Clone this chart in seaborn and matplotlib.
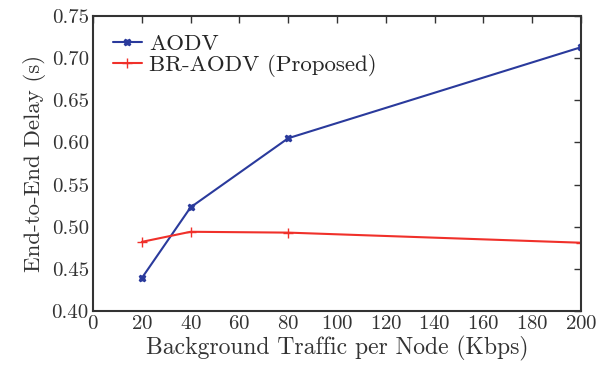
import numpy as np
import pandas as pd
import matplotlib
matplotlib.use('Agg')
import matplotlib.pyplot as plt
import seaborn as sns

# Data
traffic = [20, 40, 80, 200]
aodv = [0.439, 0.523, 0.605, 0.713]
br_aodv = [0.482, 0.494, 0.493, 0.481]

sns.set_theme(style='white')
plt.rcParams['font.family'] = ['cmr10', 'DejaVu Serif']
plt.rcParams['axes.formatter.use_mathtext'] = True

df = pd.DataFrame({
    'traffic': traffic * 2,
    'delay': aodv + br_aodv,
    'protocol': ['AODV'] * 4 + ['BR-AODV (Proposed)'] * 4,
})

fig = plt.figure(figsize=(5.98, 3.65), dpi=100)
ax = fig.add_axes([0.1555, 0.148, 0.816, 0.808])

palette = {'AODV': '#2a3a9c', 'BR-AODV (Proposed)': '#f0302a'}
markers = {'AODV': 'X', 'BR-AODV (Proposed)': '+'}
sizes = {'AODV': 5, 'BR-AODV (Proposed)': 7}
for name in ['AODV', 'BR-AODV (Proposed)']:
    grp = df[df['protocol'] == name]
    sns.lineplot(data=grp, x='traffic', y='delay', ax=ax, color=palette[name],
                 marker=markers[name], markersize=sizes[name], markeredgewidth=1.0,
                 markeredgecolor=palette[name], markerfacecolor=palette[name],
                 linewidth=1.5, label=name)

ax.set_xlim(0, 200)
ax.set_ylim(0.40, 0.75)
ax.set_xticks(np.arange(0, 201, 20))
ax.set_yticks(np.arange(0.40, 0.751, 0.05))
ax.set_yticklabels([f'{v:.2f}' for v in np.arange(0.40, 0.751, 0.05)])
ax.tick_params(direction='in', top=True, right=True, length=5, width=1,
               color='#333333', labelsize=15, labelcolor='#333333', pad=3)
for s in ax.spines.values():
    s.set_linewidth(1.5)
    s.set_color('#333333')

ax.set_xlabel('Background Traffic per Node (Kbps)', fontsize=17, color='#333333', labelpad=2)
ax.set_ylabel('End-to-End Delay (s)', fontsize=16.5, color='#333333', labelpad=4)
ax.legend(loc='upper left', frameon=False, fontsize=16.5, handlelength=1.3,
          borderaxespad=0.2, labelspacing=0.0, handletextpad=0.3,
          bbox_to_anchor=(0.012, 0.985))

fig.savefig('out.png', dpi=100)
